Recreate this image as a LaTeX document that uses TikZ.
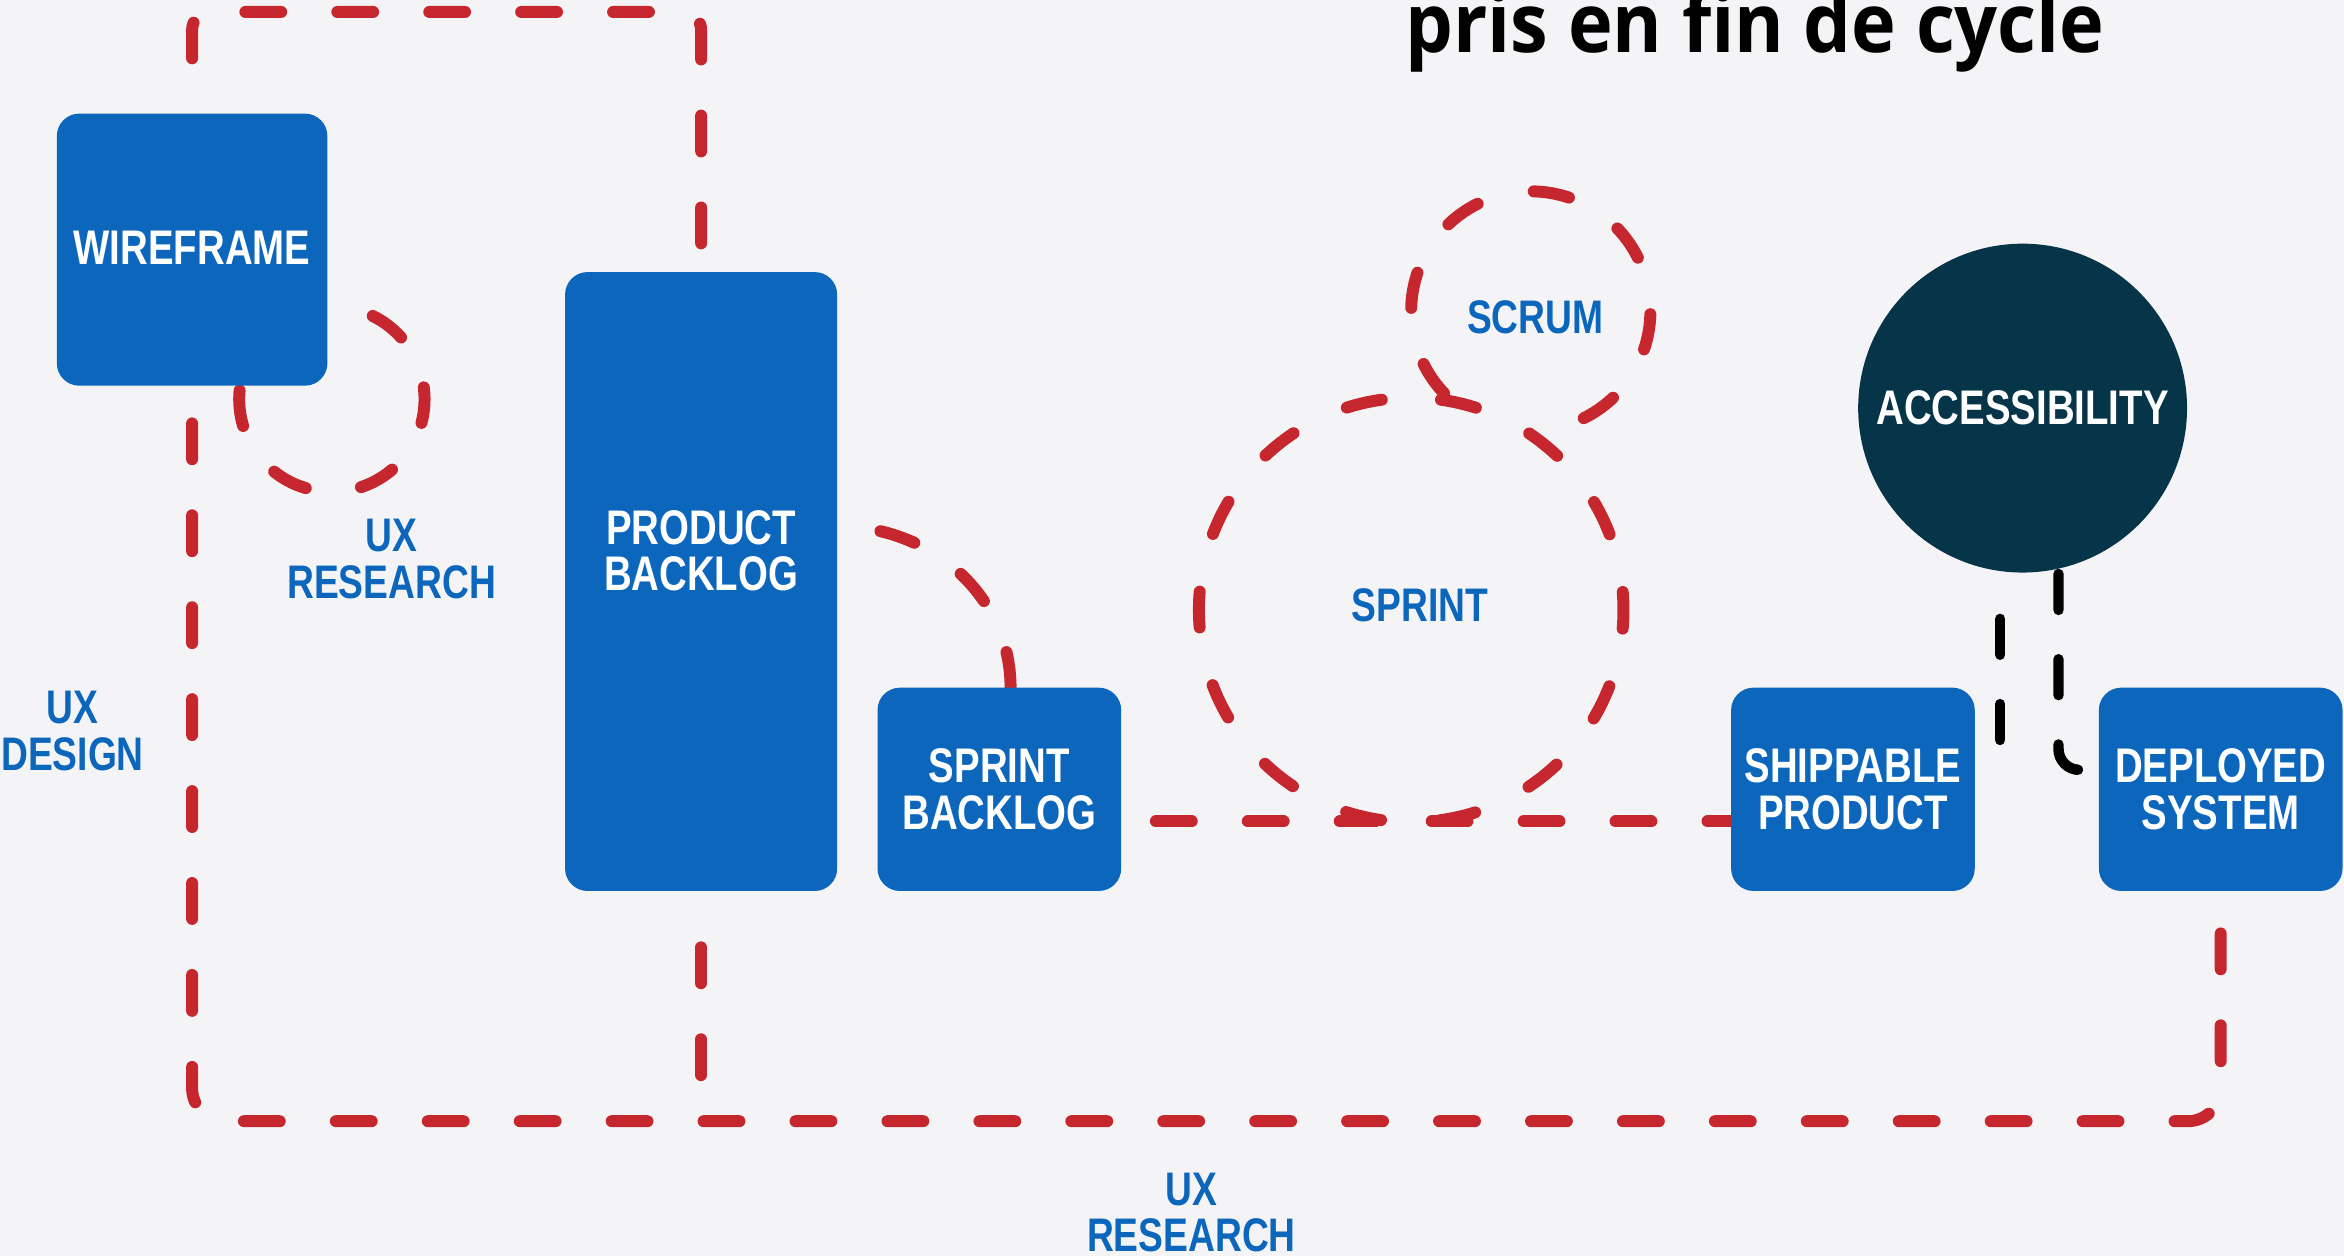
\documentclass[tikz,border=0pt]{standalone}
\usepackage{fontspec}
\newfontfamily\condfont[FakeStretch=0.79]{Liberation Sans}
\newfontfamily\titlefont[FakeStretch=0.92]{Open Sans}
\definecolor{bgc}{RGB}{244,244,246}
\definecolor{boxblue}{RGB}{11,102,188}
\definecolor{lineRed}{RGB}{198,38,46}
\definecolor{darkc}{RGB}{6,52,72}
\pgfdeclarelayer{backdrop}
\pgfdeclarelayer{lines}
\pgfsetlayers{backdrop,lines,main}
\begin{document}
\begin{tikzpicture}[x=1pt,y=-1pt,
  box/.style={fill=boxblue, rounded corners=15pt, inner sep=0pt},
  boxtxt/.style={text=white, font=\condfont\bfseries\fontsize{32.5}{31}\selectfont, align=center, inner sep=0pt},
  lbl/.style={text=boxblue, font=\condfont\bfseries\fontsize{31.5}{31}\selectfont, align=center, inner sep=0pt},
  reddash/.style={draw=lineRed, line width=8pt, line cap=round, dash pattern=on 24pt off 37.5pt},
  blackdash/.style={draw=black, line width=7pt, line cap=round, dash pattern=on 24pt off 33pt},
  loopcircle/.style={circle, reddash, inner sep=0pt},
]
\begin{pgfonlayer}{backdrop}
\fill[bgc] (0,0) rectangle (1568,840);
\end{pgfonlayer}
\useasboundingbox (0,0) rectangle (1568,840);

% title
\node[anchor=base west, inner sep=0pt, text=black,
      font=\titlefont\bfseries\fontsize{55}{60}\selectfont] (title) at (940,35) {pris en fin de cycle};

% boxes
\node[box, minimum width=181pt, minimum height=182pt] (wf) at (128.5,167) {};
\node[boxtxt] (wft) at (128.5,166) {WIREFRAME};
\node[box, minimum width=182pt, minimum height=414pt] (pb) at (469,389) {};
\node[boxtxt] (pbt) at (469,368.5) {PRODUCT\\BACKLOG};
\node[box, minimum width=163pt, minimum height=136pt] (sb) at (668.5,528) {};
\node[boxtxt] (sbt) at (668.5,528) {SPRINT\\BACKLOG};
\node[box, minimum width=163pt, minimum height=136pt] (sp) at (1239.5,528) {};
\node[boxtxt] (spt) at (1239.5,528) {SHIPPABLE\\PRODUCT};
\node[box, minimum width=163pt, minimum height=136pt] (ds) at (1485.5,528) {};
\node[boxtxt] (dst) at (1485.5,528) {DEPLOYED\\SYSTEM};
\node[circle, fill=darkc, minimum size=220pt, inner sep=0pt] (acc) at (1353,273) {};
\node[boxtxt] (acct) at (1353,273) {ACCESSIBILITY};

% blue labels
\node[lbl] (uxr1) at (262,374) {UX\\RESEARCH};
\node[lbl] (uxd) at (48.5,489) {UX\\DESIGN};
\node[lbl] (uxr2) at (797,811) {UX\\RESEARCH};
\node[lbl] (scrumt) at (1027,212) {SCRUM};
\node[lbl] (sprintt) at (950,405) {SPRINT};

\begin{pgfonlayer}{lines}
% loops
\node[loopcircle, minimum size=124pt,
      dash pattern=on 24pt off 37.2pt on 24pt off 47.9pt on 24pt off 48pt on 24pt off 37.5pt on 24pt off 37.5pt on 24pt off 37.5pt,
      dash phase=16.1pt] (uxloop) at (222,267) {};
\node[loopcircle, minimum size=284pt,
      dash pattern=on 24pt off 39.7pt, dash phase=12pt] (sprint) at (944,408) {};
\node[loopcircle, minimum size=160pt,
      dash pattern=on 24pt off 38.8pt on 24pt off 38.8pt on 24pt off 38.8pt on 24pt off 38.8pt on 24pt off 101.6pt on 24pt off 38.8pt on 24pt off 38.8pt,
      dash phase=465.5pt] (scrum) at (1024,208) {};

% outer dashed frame
\draw[reddash, dash phase=42.5pt, rounded corners=12pt]
  (pb.north) -- (pb.north |- 0,8) -- (wf.north |- 0,8) -- (wf.north);
\draw[reddash, dash phase=36.5pt, rounded corners=22pt]
  (wf.south) -- (wf.south |- 0,750) -- (ds.south |- 0,750) -- (ds.south);
\draw[reddash, dash phase=24pt] (pb.south) -- (pb.south |- 0,750);

% product backlog -> sprint backlog
\coordinate (pbArc) at (pb.east |- 0,352);
\coordinate (sbArc) at (sb.north -| 676,0);
\draw[reddash, dash phase=32.5pt] (pbArc) .. controls +(64,0) and +(0,-60) .. (sbArc);

% sprint backlog -> shippable product
\draw[reddash, dash phase=38.5pt] (sb.east |- 0,549.5) -- (sp.west |- 0,549.5);

% accessibility links
\coordinate (accR) at (1377,384);
\coordinate (dsIn) at (ds.west |- 0,515);
\draw[blackdash, rounded corners=14pt] (accR) -- (accR |- dsIn) -- (dsIn);
\coordinate (accL) at (1338,383);
\coordinate (blEnd) at (1338,500);
\draw[blackdash, dash phase=26pt] (accL) -- (blEnd);
\end{pgfonlayer}
\end{tikzpicture}
\end{document}
